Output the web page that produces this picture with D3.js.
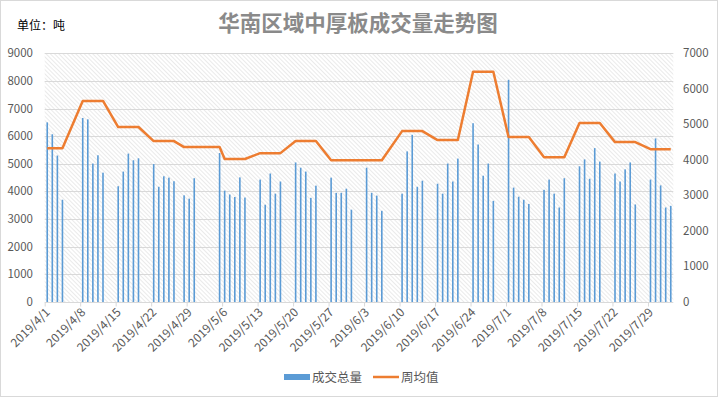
<!DOCTYPE html>
<html>
<head>
<meta charset="utf-8">
<script src="https://cdn.jsdelivr.net/npm/d3@7"></script>
<style>
  body { margin: 0; background: #fff; }
  svg { display: block; font-family: "Noto Sans CJK SC", "Noto Sans", sans-serif; }
</style>
</head>
<body>
<svg id="chart" width="718" height="397"></svg>
<script>
const svg = d3.select('#chart');
const W = +svg.attr('width');
const H = +svg.attr('height');

// trading days and daily volume (tons)
const dates = [
  '2019-04-01','2019-04-02','2019-04-03','2019-04-04',
  '2019-04-08','2019-04-09','2019-04-10','2019-04-11','2019-04-12',
  '2019-04-15','2019-04-16','2019-04-17','2019-04-18','2019-04-19',
  '2019-04-22','2019-04-23','2019-04-24','2019-04-25','2019-04-26',
  '2019-04-28','2019-04-29','2019-04-30','2019-05-05',
  '2019-05-06','2019-05-07','2019-05-08','2019-05-09','2019-05-10',
  '2019-05-13','2019-05-14','2019-05-15','2019-05-16','2019-05-17',
  '2019-05-20','2019-05-21','2019-05-22','2019-05-23','2019-05-24',
  '2019-05-27','2019-05-28','2019-05-29','2019-05-30','2019-05-31',
  '2019-06-03','2019-06-04','2019-06-05','2019-06-06',
  '2019-06-10','2019-06-11','2019-06-12','2019-06-13','2019-06-14',
  '2019-06-17','2019-06-18','2019-06-19','2019-06-20','2019-06-21',
  '2019-06-24','2019-06-25','2019-06-26','2019-06-27','2019-06-28',
  '2019-07-01','2019-07-02','2019-07-03','2019-07-04','2019-07-05',
  '2019-07-08','2019-07-09','2019-07-10','2019-07-11','2019-07-12',
  '2019-07-15','2019-07-16','2019-07-17','2019-07-18','2019-07-19',
  '2019-07-22','2019-07-23','2019-07-24','2019-07-25','2019-07-26',
  '2019-07-29','2019-07-30','2019-07-31','2019-08-01','2019-08-02'
];
const volume = [
  6500, 6070, 5300, 3700,
  6660, 6610, 5010, 5310, 4680,
  4190, 4720, 5370, 5130, 5200,
  4990, 4170, 4550, 4500, 4370,
  3860, 3740, 4480, 5390,
  4030, 3890, 3800, 4510, 3780,
  4430, 3520, 4650, 3920, 4360,
  5050, 4860, 4720, 3770, 4210,
  4500, 3950, 3950, 4100, 3340,
  4860, 3950, 3850, 3300,
  3920, 5450, 6050, 4170, 4390,
  4280, 3920, 5010, 4360, 5190,
  6470, 5700, 4570, 5010, 3660,
  8040, 4140, 3810, 3700, 3550,
  4060, 4430, 3920, 3420, 4480,
  4910, 5160, 4460, 5570, 5080,
  4650, 4360, 4800, 5050, 3530,
  4430, 5920, 4220, 3420, 3480
];

// weekly average (right axis) and how many trading days each week spans
const weekAvg   = [4330, 5660, 4925, 4530, 4360, 4025, 4190, 4530, 3990,
                   3990, 4810, 4557, 6480, 4642, 4075, 5038, 4500, 4302];
const weekSizes = [4, 5, 5, 5, 4, 5, 5, 5, 5, 4, 5, 5, 5, 5, 5, 5, 5, 5];

const leftTicks  = [0, 1000, 2000, 3000, 4000, 5000, 6000, 7000, 8000, 9000];
const rightTicks = [0, 1000, 2000, 3000, 4000, 5000, 6000, 7000];

const parse = d3.timeParse('%Y-%m-%d');
const dayMs = 864e5;

let weekly = [];
weekSizes.forEach((n, i) => { for (let k = 0; k < n; k++) weekly.push(weekAvg[i]); });

const rows = dates.map((d, i) => ({ date: parse(d), v: volume[i], w: weekly[i] }));

const plot = { left: 44.7, right: 673.3, top: 53.3, bottom: 302 };

const x = d3.scaleTime()
  .domain([parse('2019-04-01'), parse('2019-08-03')])
  .range([plot.left, plot.right]);
const yL = d3.scaleLinear().domain([0, 9000]).range([plot.bottom, plot.top]);
const yR = d3.scaleLinear().domain([0, 7000]).range([plot.bottom, plot.top]);
const mid = d => new Date(+d + dayMs / 2);

// outer border
svg.append('rect')
  .attr('x', 0.5).attr('y', 0.5)
  .attr('width', W - 1).attr('height', H - 1)
  .attr('fill', '#fff').attr('stroke', '#d9d9d9');

// hatch pattern for plot background (lines running down to the right)
const pat = svg.append('defs').append('pattern')
  .attr('id', 'hatch')
  .attr('patternUnits', 'userSpaceOnUse')
  .attr('width', 3).attr('height', 3)
  .attr('patternTransform', 'rotate(-45)');
pat.append('line')
  .attr('x1', 0).attr('y1', 0).attr('x2', 0).attr('y2', 3)
  .attr('stroke', '#cccccc').attr('stroke-width', 0.8);

svg.append('rect')
  .attr('x', plot.left).attr('y', plot.top)
  .attr('width', plot.right - plot.left).attr('height', plot.bottom - plot.top)
  .attr('fill', 'url(#hatch)');

// gridlines
svg.append('g').selectAll('line')
  .data(leftTicks.slice(1))
  .enter().append('line')
  .attr('x1', plot.left).attr('x2', plot.right)
  .attr('y1', d => Math.round(yL(d)) + 0.5).attr('y2', d => Math.round(yL(d)) + 0.5)
  .attr('stroke', '#d9d9d9').attr('stroke-width', 1);

// left axis labels
svg.append('g').selectAll('text')
  .data(leftTicks)
  .enter().append('text')
  .attr('x', 33).attr('y', d => yL(d) + 4)
  .attr('text-anchor', 'end')
  .attr('font-size', 11.5).attr('fill', '#595959')
  .text(d => d);

// right axis labels
svg.append('g').selectAll('text')
  .data(rightTicks)
  .enter().append('text')
  .attr('x', 683).attr('y', d => yR(d) + 4)
  .attr('font-size', 11.5).attr('fill', '#595959')
  .text(d => d);

// bars
svg.append('g').selectAll('rect')
  .data(rows)
  .enter().append('rect')
  .attr('x', d => x(mid(d.date)) - 0.8)
  .attr('width', 1.6)
  .attr('y', d => yL(d.v))
  .attr('height', d => plot.bottom - yL(d.v))
  .attr('fill', '#5b9bd5');

// weekly average line
const line = d3.line()
  .x(d => x(mid(d.date)))
  .y(d => yR(d.w));

svg.append('path')
  .datum(rows)
  .attr('d', line)
  .attr('fill', 'none')
  .attr('stroke', '#ed7d31')
  .attr('stroke-width', 2.5)
  .attr('stroke-linejoin', 'round');

// x axis
const weekTicks = d3.timeDay.range(parse('2019-04-01'), parse('2019-07-30'), 7);
const fmt = d => d.getFullYear() + '/' + (d.getMonth() + 1) + '/' + d.getDate();

const xAxis = d3.axisBottom(x)
  .tickValues(weekTicks)
  .tickSize(4)
  .tickFormat('');

const gx = svg.append('g')
  .attr('transform', `translate(0,${Math.round(plot.bottom) + 0.5})`)
  .call(xAxis);
gx.select('.domain').attr('stroke', '#d9d9d9').attr('d', `M${plot.left},0H${plot.right}`);
gx.selectAll('.tick line').attr('stroke', '#d9d9d9');

svg.append('g').selectAll('text')
  .data(weekTicks)
  .enter().append('text')
  .attr('transform', d => `translate(${x(d) + 6},${plot.bottom + 11}) rotate(-45)`)
  .attr('text-anchor', 'end')
  .attr('font-size', 12).attr('fill', '#595959')
  .text(fmt);

// title and unit
svg.append('text')
  .attr('x', 358).attr('y', 31)
  .attr('text-anchor', 'middle')
  .attr('font-size', 21.5).attr('font-weight', 'bold')
  .attr('fill', '#8a8a8a')
  .text('华南区域中厚板成交量走势图');

svg.append('text')
  .attr('x', 17).attr('y', 30)
  .attr('font-size', 12).attr('fill', '#000')
  .text('单位：吨');

// legend
const lg = svg.append('g');
lg.append('rect')
  .attr('x', 284).attr('y', 374).attr('width', 26).attr('height', 6)
  .attr('fill', '#5b9bd5');
lg.append('text')
  .attr('x', 312).attr('y', 382)
  .attr('font-size', 12.5).attr('fill', '#595959')
  .text('成交总量');
lg.append('line')
  .attr('x1', 373).attr('x2', 399).attr('y1', 377).attr('y2', 377)
  .attr('stroke', '#ed7d31').attr('stroke-width', 2.5);
lg.append('text')
  .attr('x', 401).attr('y', 382)
  .attr('font-size', 12.5).attr('fill', '#595959')
  .text('周均值');
</script>
</body>
</html>
